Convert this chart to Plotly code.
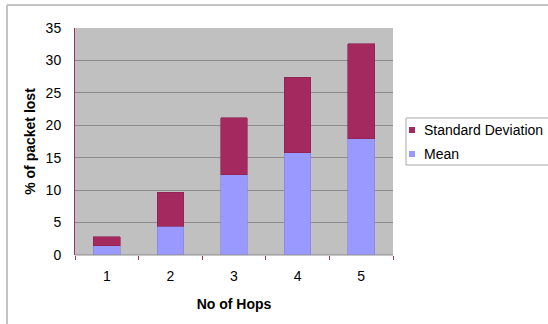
import plotly.graph_objects as go

hops = ["1", "2", "3", "4", "5"]
mean_vals = [1.4, 4.4, 12.4, 15.8, 17.9]
sd_vals = [1.4, 5.3, 8.8, 11.6, 14.7]
y_ticks = [0, 5, 10, 15, 20, 25, 30, 35]
series_names = ["Mean", "Standard Deviation"]
series_colors = ["#9999FF", "#A3295F"]

W, H = 548, 324
L, R, T, B = 75, 155, 28, 69
pw, ph = W - L - R, H - T - B

def px(x):
    return (x - L) / pw

def py(y):
    return (H - B - y) / ph

fig = go.Figure()
fig.add_trace(go.Bar(x=hops, y=mean_vals, name=series_names[0],
                     marker=dict(color=series_colors[0], line=dict(color="#8080D8", width=0.6))))
fig.add_trace(go.Bar(x=hops, y=sd_vals, name=series_names[1],
                     marker=dict(color=series_colors[1], line=dict(color="#8A2050", width=0.6))))

shapes = [
    dict(type="line", xref="paper", yref="paper", x0=px(7), x1=px(W), y0=py(5), y1=py(5),
         line=dict(color="#C4C4C4", width=2)),
    dict(type="line", xref="paper", yref="paper", x0=px(7), x1=px(7), y0=py(5), y1=py(H),
         line=dict(color="#C4C4C4", width=2)),
    dict(type="line", xref="paper", yref="paper", x0=0, x1=1, y0=0, y1=0,
         line=dict(color="#8C8C8C", width=1)),
    # legend box
    dict(type="rect", xref="paper", yref="paper", x0=px(406), x1=px(W + 10), y0=py(165), y1=py(118),
         line=dict(color="#A8A8A8", width=1), fillcolor="white", layer="below"),
]
annotations = []
legend_rows = [(series_names[1], series_colors[1], 130), (series_names[0], series_colors[0], 154)]
for name, col, yc in legend_rows:
    shapes.append(dict(type="rect", xref="paper", yref="paper", x0=px(409), x1=px(415),
                       y0=py(yc + 3), y1=py(yc - 3), fillcolor=col, line=dict(width=0)))
    annotations.append(dict(text=name, xref="paper", yref="paper", x=px(422), y=py(yc),
                            xanchor="left", yanchor="middle", showarrow=False,
                            font=dict(size=14, color="black")))

fig.update_layout(
    width=W, height=H,
    margin=dict(l=L, r=R, t=T, b=B, autoexpand=False),
    barmode="stack", bargap=0.58,
    plot_bgcolor="#C0C0C0", paper_bgcolor="white",
    font=dict(family="Liberation Sans, Arial", size=14, color="black"),
    showlegend=False,
    xaxis=dict(title=dict(text="<b>No of Hops</b>", font=dict(size=14), standoff=16),
               tickson="boundaries", ticks="outside", ticklen=4, tickcolor="#993366",
               ticklabelstandoff=11,
               showline=False, showgrid=False, zeroline=False),
    yaxis=dict(title=dict(text="<b>% of packet lost</b>", font=dict(size=14), standoff=6),
               range=[0, 35], tickvals=y_ticks, ticks="outside", ticklen=10, tickcolor="rgba(0,0,0,0)",
               showgrid=True, gridcolor="#8C8C8C", gridwidth=1,
               showline=True, linecolor="#993366", linewidth=1, zeroline=False),
    shapes=shapes,
    annotations=annotations,
)

fig.write_html("out.html", config={"displayModeBar": False},
               post_script="document.body.style.margin='0';document.body.style.overflow='hidden';")
